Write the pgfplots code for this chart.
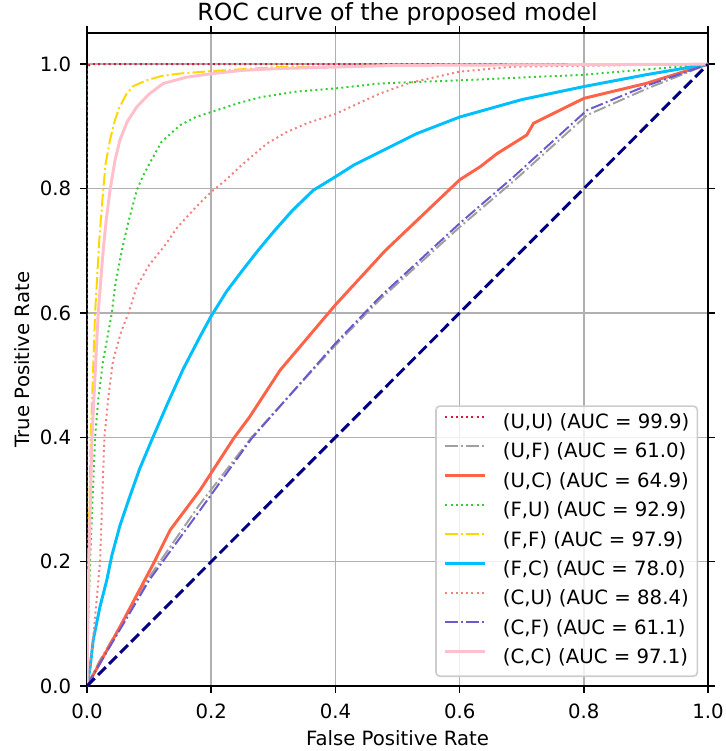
\documentclass[border=0pt]{standalone}
\usepackage{fontspec}
\setmainfont{DejaVu Sans}
\usepackage{pgfplots}
\pgfplotsset{compat=1.18}
\definecolor{cUU}{HTML}{DC143C}
\definecolor{cUF}{HTML}{A0A0A0}
\definecolor{cUC}{HTML}{FF6347}
\definecolor{cFU}{HTML}{32CD32}
\definecolor{cFF}{HTML}{FFD700}
\definecolor{cFC}{HTML}{00BFFF}
\definecolor{cCU}{HTML}{F08080}
\definecolor{cCF}{HTML}{6A5ACD}
\definecolor{cCC}{HTML}{FFC0CB}
\definecolor{cNavy}{HTML}{000080}
\definecolor{gridc}{HTML}{B0B0B0}
\tikzset{
  mdot/.style={line width=1pt, dash pattern=on 1pt off 1.65pt},
  mdashdot/.style={line width=1pt, dash pattern=on 6.4pt off 1.6pt on 1pt off 1.6pt},
  msolid/.style={line width=1.5pt},
}
\begin{document}
\begin{tikzpicture}
\begin{axis}[
  scale only axis,
  width=315.5pt, height=331.7pt,
  xmin=0, xmax=1, ymin=0, ymax=1.05,
  xtick={0,0.2,0.4,0.6,0.8,1.0},
  ytick={0,0.2,0.4,0.6,0.8,1.0},
  grid=major,
  major grid style={color=gridc, line width=0.8pt},
  axis line style={line width=0.8pt},
  tick align=outside,
  major tick length=3.5pt,
  every tick/.style={black, line width=0.8pt},
  tick label style={font=\fontsize{10}{12}\selectfont},
  /pgf/number format/assume math mode=true,
  xticklabel style={/pgf/number format/.cd, fixed, fixed zerofill, precision=1, /tikz/.cd, yshift=-2pt},
  yticklabel style={/pgf/number format/.cd, fixed, fixed zerofill, precision=1, /tikz/.cd, xshift=-1pt},
  xlabel={False Positive Rate},
  xlabel style={at={(0.5,-0.0904)}, anchor=base, font=\fontsize{10}{12}\selectfont, inner sep=0pt},
  ylabel={True Positive Rate},
  ylabel style={at={(-0.1046,0.5)}, anchor=center, font=\fontsize{10}{12}\selectfont, inner sep=0pt},
  legend cell align=left,
  legend image code/.code={\draw[#1] (0pt,3.6pt) -- (20pt,3.6pt);},
  legend style={at={(0.9839,0.0138)}, anchor=south east,
    draw=black!20, line width=0.8pt, fill=white, fill opacity=0.8, text opacity=1,
    rounded corners=2pt, font=\fontsize{10}{12}\selectfont,
    inner xsep=4pt, inner ysep=3.9pt, row sep=4.93pt, column sep=8.5pt,
    nodes={inner sep=0pt, text height=7.5pt, text depth=2.5pt}},
]
% (U,U)
\addplot[cUU, mdot] coordinates {(0,0) (0,0.995) (0.005,1) (1,1)};
\addlegendentry{(U,U) (AUC = 99.9)}
% (U,F)
\addplot[cUF, mdashdot] coordinates {(0,0) (0.02,0.04) (0.1,0.175) (0.18,0.29) (0.265,0.40) (0.4,0.548) (0.472,0.622) (0.6,0.738) (0.687,0.812) (0.805,0.918) (0.9,0.96) (1,1)};
\addlegendentry{(U,F) (AUC = 61.0)}
% (U,C)
\addplot[cUC, msolid] coordinates {(0,0) (0.053,0.095) (0.107,0.197) (0.134,0.251) (0.182,0.315) (0.236,0.398) (0.262,0.433) (0.311,0.508) (0.4,0.613) (0.48,0.70) (0.6,0.814) (0.633,0.835) (0.66,0.856) (0.708,0.886) (0.719,0.905) (0.8,0.945) (0.9,0.969) (1,1)};
\addlegendentry{(U,C) (AUC = 64.9)}
% (F,U)
\addplot[cFU, mdot] coordinates {(0,0) (0.002,0.1) (0.005,0.2) (0.009,0.3) (0.013,0.4) (0.018,0.46) (0.026,0.524) (0.040,0.60) (0.045,0.642) (0.056,0.70) (0.065,0.74) (0.08,0.797) (0.09,0.82) (0.101,0.841) (0.12,0.875) (0.15,0.902) (0.175,0.915) (0.2,0.923) (0.246,0.938) (0.28,0.947) (0.338,0.956) (0.4,0.961) (0.472,0.969) (0.6,0.974) (0.8,0.983) (1,1)};
\addlegendentry{(F,U) (AUC = 92.9)}
% (F,F)
\addplot[cFF, mdashdot] coordinates {(0,0) (0.002,0.2) (0.006,0.4) (0.013,0.6) (0.02,0.72) (0.026,0.797) (0.03,0.84) (0.037,0.878) (0.045,0.91) (0.052,0.93) (0.064,0.953) (0.075,0.965) (0.096,0.974) (0.12,0.981) (0.15,0.985) (0.203,0.989) (0.3,0.995) (0.5,0.998) (1,1)};
\addlegendentry{(F,F) (AUC = 97.9)}
% (F,C)
\addplot[cFC, msolid] coordinates {(0,0) (0.005,0.03) (0.010,0.074) (0.021,0.128) (0.032,0.171) (0.040,0.21) (0.053,0.258) (0.069,0.305) (0.085,0.35) (0.104,0.395) (0.13,0.455) (0.155,0.51) (0.182,0.562) (0.2,0.595) (0.225,0.635) (0.25,0.668) (0.275,0.70) (0.3,0.73) (0.33,0.764) (0.364,0.797) (0.4,0.819) (0.43,0.838) (0.472,0.859) (0.53,0.888) (0.6,0.915) (0.7,0.943) (0.8,0.964) (0.9,0.983) (1,1)};
\addlegendentry{(F,C) (AUC = 78.0)}
% (C,U)
\addplot[cCU, mdot] coordinates {(0,0) (0.005,0.03) (0.012,0.1) (0.021,0.2) (0.028,0.4) (0.035,0.47) (0.042,0.524) (0.055,0.57) (0.067,0.6) (0.08,0.642) (0.1,0.677) (0.125,0.708) (0.145,0.737) (0.166,0.76) (0.185,0.78) (0.203,0.797) (0.225,0.815) (0.246,0.835) (0.289,0.872) (0.32,0.89) (0.354,0.905) (0.4,0.92) (0.472,0.953) (0.52,0.97) (0.6,0.988) (0.686,0.996) (1,1)};
\addlegendentry{(C,U) (AUC = 88.4)}
% (C,F)
\addplot[cCF, mdashdot] coordinates {(0,0) (0.02,0.035) (0.1,0.17) (0.18,0.28) (0.265,0.398) (0.4,0.551) (0.472,0.626) (0.6,0.744) (0.687,0.819) (0.805,0.926) (0.9,0.965) (1,1)};
\addlegendentry{(C,F) (AUC = 61.1)}
% (C,C)
\addplot[cCC, msolid] coordinates {(0,0) (0.003,0.2) (0.008,0.4) (0.018,0.6) (0.026,0.70) (0.031,0.75) (0.037,0.797) (0.045,0.845) (0.053,0.878) (0.065,0.908) (0.08,0.931) (0.1,0.952) (0.123,0.969) (0.16,0.979) (0.203,0.985) (0.25,0.99) (0.31,0.993) (0.5,0.998) (1,1)};
\addlegendentry{(C,C) (AUC = 97.1)}
% chance line
\addplot[cNavy, line width=1.5pt, dash pattern=on 5.55pt off 2.4pt, forget plot] coordinates {(0,0) (1,1)};
\coordinate (ll) at (rel axis cs:0,0);
\coordinate (ur) at (rel axis cs:1,1);
\coordinate (tm) at (rel axis cs:0.5,1);
\end{axis}
\node[anchor=base, inner sep=0pt, font=\fontsize{12}{14}\selectfont] at ([yshift=6.4pt]tm) {ROC curve of the proposed model};
\pgfresetboundingbox
\path ([xshift=-44.2pt,yshift=-33pt]ll) rectangle ([xshift=9.1pt,yshift=16.8pt]ur);
\end{tikzpicture}
\end{document}
